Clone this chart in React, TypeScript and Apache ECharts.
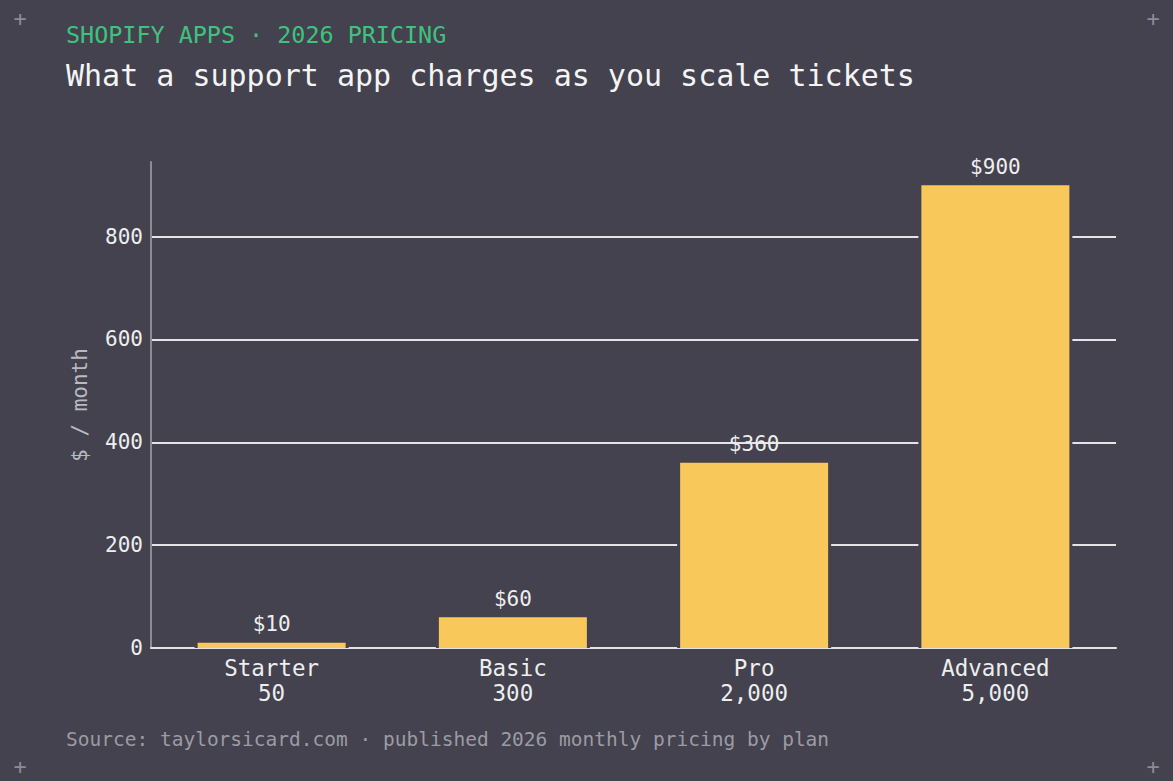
import React, { useEffect, useRef } from "react";
import * as echarts from "echarts";

const plans = ["Starter", "Basic", "Pro", "Advanced"];
const tickets = ["50", "300", "2,000", "5,000"];
const prices = [10, 60, 360, 900];

const BG = "#43424e";
const FONT = "'DejaVu Sans Mono', 'Liberation Mono', monospace";

export default function App() {
  const ref = useRef<HTMLDivElement>(null);
  useEffect(() => {
    document.body.style.margin = "0";
    document.body.style.background = BG;
    const chart = echarts.init(ref.current!, null, { renderer: "svg" });
    const categories = plans.map((p, i) => `${p}\n${tickets[i]}`);
    chart.setOption({
      animation: false,
      backgroundColor: BG,
      textStyle: { fontFamily: FONT },
      grid: { left: 151, right: 57, top: 162, bottom: 133 },
      xAxis: [
        {
          type: "category",
          data: categories,
          axisTick: { show: false },
          axisLine: { lineStyle: { color: "#e4e4e8", width: 2 } },
          axisLabel: {
            color: "#eeeeee",
            fontSize: 22.5,
            lineHeight: 25,
            margin: 7,
            fontFamily: FONT,
          },
        },
        { type: "category", data: categories, show: false },
      ],
      yAxis: {
        type: "value",
        min: 0,
        max: 945,
        interval: 200,
        name: "$ / month",
        nameLocation: "middle",
        nameGap: 61,
        nameTextStyle: { color: "#b9b9c1", fontSize: 21, fontFamily: FONT },
        axisLine: { show: true, lineStyle: { color: "#8c8b96", width: 2 } },
        axisTick: { show: false },
        axisLabel: {
          color: "#eeeeee",
          fontSize: 21,
          margin: 8,
          showMaxLabel: false,
          fontFamily: FONT,
        },
        splitLine: {
          show: true,
          showMaxLine: false,
          lineStyle: { color: "#e4e4e8", width: 2 },
        },
      },
      series: [
        {
          type: "bar",
          xAxisIndex: 1,
          data: prices,
          barWidth: 154,
          silent: true,
          z: 2,
          itemStyle: { color: BG },
        },
        {
          type: "bar",
          xAxisIndex: 0,
          data: prices,
          barWidth: 148,
          z: 3,
          itemStyle: { color: "#f9c85a" },
          label: {
            show: true,
            position: "top",
            distance: 8,
            formatter: (p: any) => `$${p.value}`,
            color: "#eeeeee",
            fontSize: 21,
            fontFamily: FONT,
          },
        },
      ],
      graphic: [
        {
          type: "text",
          left: 66,
          top: 23,
          style: {
            text: "SHOPIFY APPS · 2026 PRICING",
            fill: "#40c27f",
            font: `23.4px ${FONT}`,
          },
        },
        {
          type: "text",
          left: 66,
          top: 60,
          style: {
            text: "What a support app charges as you scale tickets",
            fill: "#f4f4f4",
            font: `30px ${FONT}`,
          },
        },
        {
          type: "text",
          left: 66,
          top: 729,
          style: {
            text: "Source: taylorsicard.com · published 2026 monthly pricing by plan",
            fill: "#9c9ba4",
            font: `19.5px ${FONT}`,
          },
        },
        ...[
          [20, 18],
          [1153, 18],
          [20, 766],
          [1153, 766],
        ].map(([x, y]) => ({
          type: "text",
          x,
          y,
          style: {
            text: "+",
            fill: "#8c8b96",
            font: `22px ${FONT}`,
            align: "center",
            verticalAlign: "middle",
          },
        })),
      ],
    });
    return () => chart.dispose();
  }, []);
  return (
    <div
      ref={ref}
      style={{ position: "fixed", left: 0, top: 0, width: 1173, height: 781 }}
    />
  );
}
